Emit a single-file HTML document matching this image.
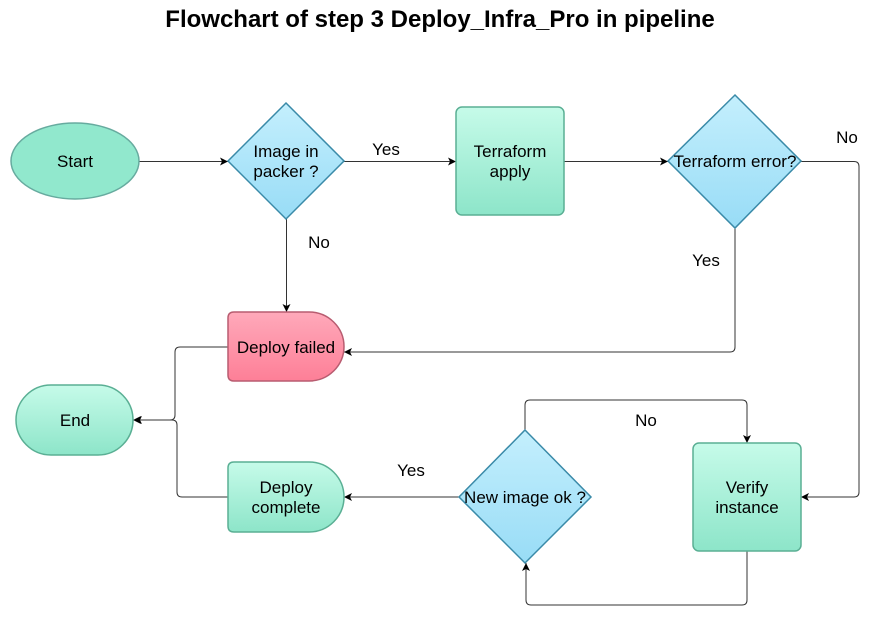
<!DOCTYPE html>
<html><head><meta charset="utf-8"><style>html,body{margin:0;padding:0;background:#fff}svg{display:block}text{font-family:"Liberation Sans",sans-serif}</style></head>
<body>
<svg width="871" height="637" viewBox="0 0 871 637" xmlns="http://www.w3.org/2000/svg">
<defs>
<linearGradient id="m" x1="0" y1="0" x2="0" y2="1"><stop offset="0" stop-color="#c6fbe9"/><stop offset="1" stop-color="#8de5c9"/></linearGradient>
<linearGradient id="b" x1="0" y1="0" x2="0" y2="1"><stop offset="0" stop-color="#c4effd"/><stop offset="1" stop-color="#98dcf6"/></linearGradient>
<linearGradient id="p" x1="0" y1="0" x2="0" y2="1"><stop offset="0" stop-color="#ffa9ba"/><stop offset="1" stop-color="#fd7f97"/></linearGradient>
<marker id="a" markerWidth="10" markerHeight="10" refX="9" refY="5" orient="auto" markerUnits="userSpaceOnUse"><path d="M1,1 L9,5 L1,9 L3,5 z" fill="#000"/></marker>
</defs>
<text x="440" y="27" text-anchor="middle" font-size="24" font-weight="bold">Flowchart of step 3 Deploy_Infra_Pro in pipeline</text>
<g fill="none" stroke="#333" stroke-width="1" marker-end="url(#a)">
<path d="M139,161.5 H228"/>
<path d="M344,161.5 H456"/>
<path d="M564,161.5 H668"/>
<path d="M801,161.5 H854 q5 0 5 5 V492 q0 5 -5 5 H801"/>
<path d="M735,228 V347 q0 5 -5 5 H344"/>
<path d="M286.5,219 V312"/>
<path d="M228,347 H180 q-5 0 -5 5 V415 q0 5 -5 5 H133"/>
<path d="M228,497 H182 q-5 0 -5 -5 V425 q0 -5 -5 -5 H134"/>
<path d="M459,497 H344"/>
<path d="M747,551 V600 q0 5 -5 5 H531 q-5 0 -5 -5 V563"/>
<path d="M525,430 V405 q0 -5 5 -5 H742 q5 0 5 5 V443"/>
</g>
<ellipse cx="75" cy="161" rx="64" ry="38" fill="#91e8cd" stroke="#67ab9f" stroke-width="1.5"/>
<polygon points="286,103 344,161 286,219 228,161" fill="url(#b)" stroke="#3a8aa8" stroke-width="1.5"/>
<rect x="456" y="107" width="108" height="108" rx="6" fill="url(#m)" stroke="#5aaf94" stroke-width="1.5"/>
<polygon points="735,95 801,161 735,228 668,161" fill="url(#b)" stroke="#3a8aa8" stroke-width="1.5"/>
<path d="M234,312 H309 A35 34.5 0 0 1 309,381 H234 q-6 0 -6 -6 V318 q0 -6 6 -6z" fill="url(#p)" stroke="#b85c70" stroke-width="1.5"/>
<rect x="16" y="385" width="117" height="70" rx="35" fill="url(#m)" stroke="#5aaf94" stroke-width="1.5"/>
<path d="M234,462 H309 A35 35 0 0 1 309,532 H234 q-6 0 -6 -6 V468 q0 -6 6 -6z" fill="url(#m)" stroke="#5aaf94" stroke-width="1.5"/>
<polygon points="525,430 591,497 525,563 459,497" fill="url(#b)" stroke="#3a8aa8" stroke-width="1.5"/>
<rect x="693" y="443" width="108" height="108" rx="6" fill="url(#m)" stroke="#5aaf94" stroke-width="1.5"/>
<g font-size="17" text-anchor="middle" fill="#000">
<text x="75" y="167">Start</text>
<text x="286" y="157">Image in</text><text x="286" y="177">packer ?</text>
<text x="510" y="157">Terraform</text><text x="510" y="177">apply</text>
<text x="735" y="167">Terraform error?</text>
<text x="286" y="353">Deploy failed</text>
<text x="75" y="426">End</text>
<text x="286" y="493">Deploy</text><text x="286" y="513">complete</text>
<text x="525" y="503">New image ok ?</text>
<text x="747" y="493">Verify</text><text x="747" y="513">instance</text>
<text x="386" y="155">Yes</text>
<text x="847" y="143">No</text>
<text x="706" y="266">Yes</text>
<text x="319" y="248">No</text>
<text x="411" y="476">Yes</text>
<text x="646" y="426">No</text>
</g>
</svg>
</body></html>
